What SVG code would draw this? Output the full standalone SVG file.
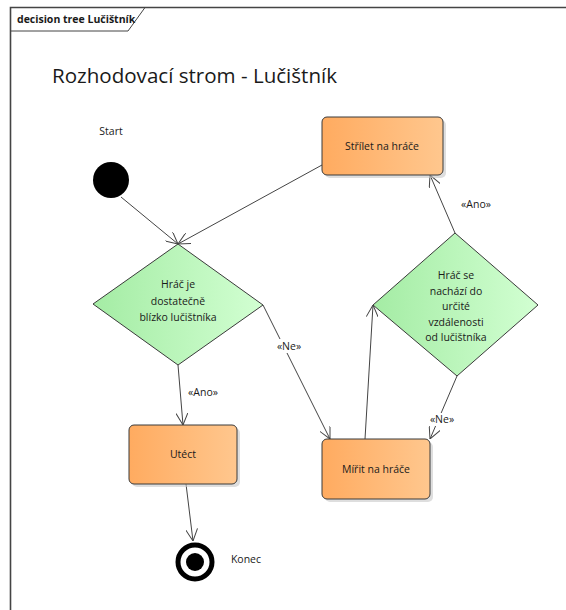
<svg xmlns="http://www.w3.org/2000/svg" width="566" height="610" viewBox="0 0 566 610">
  <style>
    text { font-family: "Open Sans", "Noto Sans", "Liberation Sans", sans-serif; fill: #1a1a1a; }
    .lbl { font-size: 10.5px; }
    .mid { text-anchor: middle; dominant-baseline: central; }
    .act { fill: url(#actFill); stroke: #3a3a3a; stroke-width: 1; }
    .dec { fill: url(#decFill); stroke: #3a3a3a; stroke-width: 1; }
    .shadow { fill: #c8c8c8; opacity: 0.6; }
    .flow { fill: none; stroke: #444; stroke-width: 1; marker-end: url(#open); }
    .bg { fill: #ffffff; }
  </style>
  <defs>
    <linearGradient id="actFill" x1="0" y1="0" x2="1" y2="0">
      <stop offset="0" stop-color="#ffab60"/>
      <stop offset="1" stop-color="#ffc78e"/>
    </linearGradient>
    <linearGradient id="decFill" x1="0" y1="0" x2="1" y2="0">
      <stop offset="0" stop-color="#a4eca4"/>
      <stop offset="1" stop-color="#d2ffd2"/>
    </linearGradient>
    <marker id="open" viewBox="0 0 12 12" refX="12" refY="6" markerWidth="12" markerHeight="12" markerUnits="userSpaceOnUse" orient="auto">
      <path d="M0,0 L12,6 L0,12" fill="none" stroke="#444" stroke-width="1"/>
    </marker>
  </defs>

  <!-- diagram frame -->
  <g id="frame">
    <path d="M566,7.5 H10.5 V610" fill="none" stroke="#444" stroke-width="1.6"/>
    <path d="M10.5,31 H128 L145,7.5" fill="none" stroke="#444" stroke-width="1"/>
    <text x="17" y="23" style="font-size:10.5px;font-weight:bold">decision tree Lučištník</text>
  </g>

  <text x="52" y="83" style="font-size:20px" textLength="285" lengthAdjust="spacingAndGlyphs">Rozhodovací strom - Lučištník</text>

  <!-- connectors -->
  <g id="connectors">
    <path class="flow" d="M121,197 L178,244"/>
    <path class="flow" d="M322,165 L178,244"/>
    <path class="flow" d="M178,365 L183,425"/>
    <path class="flow" d="M263,305 L330,439"/>
    <path class="flow" d="M186,484 L193,541"/>
    <path class="flow" d="M365,439 L373,305"/>
    <path class="flow" d="M457,376 L430,439"/>
    <path class="flow" d="M455,233 L430,175"/>
    <rect class="bg" x="275" y="339" width="28" height="14"/>
    <text class="lbl mid" x="289" y="346">«Ne»</text>
    <text class="lbl mid" x="203" y="392">«Ano»</text>
    <rect class="bg" x="428" y="413" width="28" height="13"/>
    <text class="lbl mid" x="442" y="419">«Ne»</text>
    <text class="lbl mid" x="476" y="204">«Ano»</text>
  </g>

  <g id="start">
    <circle cx="111" cy="180" r="18" fill="#000"/>
    <text class="lbl mid" x="111" y="131">Start</text>
  </g>

  <g id="decision-blizko">
    <polygon class="dec" points="178,244 263,305 178,365 93,304"/>
    <text class="lbl mid" x="178" y="284">Hráč je</text>
    <text class="lbl mid" x="178" y="301">dostatečně</text>
    <text class="lbl mid" x="178" y="317">blízko lučištníka</text>
  </g>

  <g id="decision-vzdalenost">
    <polygon class="dec" points="455,233 538,305 457,376 373,305"/>
    <text class="lbl mid" x="456" y="275">Hráč se</text>
    <text class="lbl mid" x="456" y="291">nachází do</text>
    <text class="lbl mid" x="456" y="306">určité</text>
    <text class="lbl mid" x="456" y="322">vzdálenosti</text>
    <text class="lbl mid" x="456" y="337">od lučištníka</text>
  </g>

  <g id="strilet">
    <rect class="shadow" x="325" y="120" width="121" height="58" rx="5"/>
    <rect class="act" x="322" y="117" width="121" height="58" rx="5"/>
    <text class="lbl mid" x="382" y="146">Střílet na hráče</text>
  </g>

  <g id="utect">
    <rect class="shadow" x="132" y="428" width="108" height="59" rx="5"/>
    <rect class="act" x="129" y="425" width="108" height="59" rx="5"/>
    <text class="lbl mid" x="183" y="454">Utéct</text>
  </g>

  <g id="mirit">
    <rect class="shadow" x="325" y="442" width="108" height="60" rx="5"/>
    <rect class="act" x="322" y="439" width="108" height="60" rx="5"/>
    <text class="lbl mid" x="376" y="469">Mířit na hráče</text>
  </g>

  <g id="konec">
    <circle cx="195" cy="562" r="17" fill="#fff" stroke="#000" stroke-width="5"/>
    <circle cx="195" cy="562" r="9" fill="#000"/>
    <text class="lbl mid" x="246" y="559">Konec</text>
  </g>
</svg>
